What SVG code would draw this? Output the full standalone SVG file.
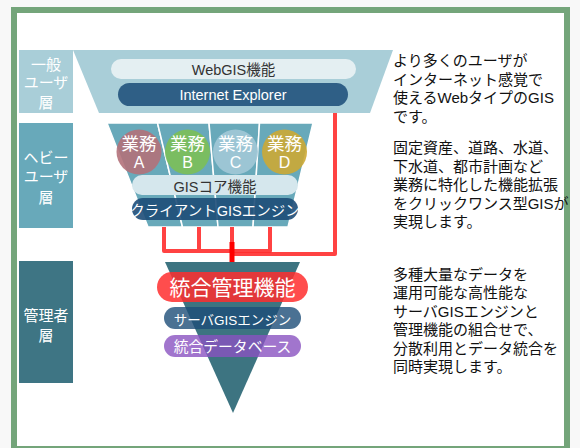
<svg xmlns="http://www.w3.org/2000/svg" width="580" height="448" viewBox="0 0 580 448">
<style>
text{font-family:'Liberation Sans','Noto Sans CJK JP',sans-serif}
.lbl{fill:#fff;font-size:15px;text-anchor:middle}
.w{fill:#fff;text-anchor:middle}
.d{fill:#333;text-anchor:middle}
.desc{fill:#111;font-size:15px}
.col{fill:#68a9ba;stroke:#fff;stroke-width:1.5;stroke-linejoin:round}
.red{fill:none;stroke:#ff2e2e;stroke-width:4;stroke-linejoin:round;stroke-opacity:.9}
.circ{fill-opacity:.9}
.ct{fill:#fff;text-anchor:middle}
</style>
<rect width="580" height="448" fill="#f8f8f8"/>
<rect x="14" y="10" width="553" height="439" fill="#fff" stroke="#74a57a" stroke-width="6"/>

<g id="label-general">
<rect x="19" y="50" width="54" height="63" fill="#a9ced8"/>
<text class="lbl" x="46" y="69.5">一般</text>
<text class="lbl" x="46" y="88">ユーザ</text>
<text class="lbl" x="46" y="108">層</text>
</g>
<g id="label-heavy">
<rect x="19" y="123" width="54" height="105" fill="#68a9ba"/>
<text class="lbl" x="46" y="162.5">ヘビー</text>
<text class="lbl" x="46" y="182">ユーザ</text>
<text class="lbl" x="46" y="203">層</text>
</g>
<g id="label-admin">
<rect x="19" y="261" width="54" height="122" fill="#3e7584"/>
<text class="lbl" x="46" y="320.5">管理者</text>
<text class="lbl" x="46" y="340.5">層</text>
</g>

<g id="tier-general">
<polygon points="73,50 393,50 370,113 99,113" fill="#a9ced8"/>
<rect x="111" y="59" width="245" height="20" rx="10" fill="#e4eff2"/>
<text class="d" x="233.5" y="75" font-size="14.5">WebGIS機能</text>
<rect x="118" y="83" width="230" height="23" rx="11.5" fill="#2f5f86"/>
<text class="w" x="233" y="100" font-size="14.5">Internet Explorer</text>
</g>

<g id="tier-heavy">
<polygon class="col" points="107,123 157.5,123 182.5,227 148,227"/>
<polygon class="col" points="157.5,123 209,123 218,227 182.5,227"/>
<polygon class="col" points="209,123 259.5,123 253,227 218,227"/>
<polygon class="col" points="259.5,123 313,123 288,227 253,227"/>
</g>

<g id="biz-a">
<circle class="circ" cx="139" cy="152" r="22.5" fill="#b3717a"/>
<text class="ct" x="139" y="150" font-size="17.5">業務</text>
<text class="ct" x="139" y="167.5" font-size="16">A</text>
</g>
<g id="biz-b">
<circle class="circ" cx="187.5" cy="152" r="22.5" fill="#7cbf58"/>
<text class="ct" x="187.5" y="150" font-size="17.5">業務</text>
<text class="ct" x="187.5" y="167.5" font-size="16">B</text>
</g>
<g id="biz-c">
<circle class="circ" cx="235.5" cy="152" r="22.5" fill="#a2c8d7"/>
<text class="ct" x="235.5" y="150" font-size="17.5">業務</text>
<text class="ct" x="235.5" y="167.5" font-size="16">C</text>
</g>
<g id="biz-d">
<circle class="circ" cx="284.5" cy="152" r="22.5" fill="#cca935"/>
<text class="ct" x="284.5" y="150" font-size="17.5">業務</text>
<text class="ct" x="284.5" y="167.5" font-size="16">D</text>
</g>

<g id="gis-core">
<rect x="132" y="175" width="166" height="20" rx="10" fill="#d5e7ed"/>
<text class="d" x="215" y="191.5" font-size="14.5">GISコア機能</text>
</g>
<g id="client-engine">
<rect x="132" y="198" width="166" height="22" rx="11" fill="#1d4d78" fill-opacity=".9"/>
<text class="w" x="215" y="215.5" font-size="14.5">クライアントGISエンジン</text>
</g>

<g id="connectors">
<path class="red" d="M164 227V251H270V227M199 227V251M232 227V251"/>
<path class="red" d="M335 113V254H232"/>
<path d="M232 242V273" fill="none" stroke="#ff0000" stroke-width="5"/>
</g>

<g id="tier-admin">
<polygon points="165,262 300,262 233,413" fill="#3d7481"/>
</g>
<g id="integrated-mgmt">
<rect x="157" y="272" width="151" height="30" rx="15" fill="#ff2e2e" fill-opacity=".85"/>
<text class="w" x="232.5" y="295" font-size="21">統合管理機能</text>
</g>
<g id="server-engine">
<rect x="164" y="307" width="137" height="22" rx="11" fill="#1d4d78" fill-opacity=".8"/>
<text class="w" x="232.5" y="324.5" font-size="13.5">サーバGISエンジン</text>
</g>
<g id="integrated-db">
<rect x="164" y="335" width="137" height="22" rx="11" fill="#8a52c0" fill-opacity=".8"/>
<text class="w" x="232.5" y="352" font-size="14.8">統合データベース</text>
</g>

<g id="desc-general">
<text class="desc" x="393" y="66">より多くのユーザが</text>
<text class="desc" x="393" y="84.5">インターネット感覚で</text>
<text class="desc" x="393" y="103">使えるWebタイプのGIS</text>
<text class="desc" x="393" y="121.5">です。</text>
</g>
<g id="desc-heavy">
<text class="desc" x="393" y="153">固定資産、道路、水道、</text>
<text class="desc" x="393" y="171.5">下水道、都市計画など</text>
<text class="desc" x="393" y="190">業務に特化した機能拡張</text>
<text class="desc" x="393" y="208.5">をクリックワンス型GISが</text>
<text class="desc" x="393" y="227">実現します。</text>
</g>
<g id="desc-admin">
<text class="desc" x="393" y="279.5">多種大量なデータを</text>
<text class="desc" x="393" y="298">運用可能な高性能な</text>
<text class="desc" x="393" y="316.5">サーバGISエンジンと</text>
<text class="desc" x="393" y="335">管理機能の組合せで、</text>
<text class="desc" x="393" y="353.5">分散利用とデータ統合を</text>
<text class="desc" x="393" y="372">同時実現します。</text>
</g>
</svg>
